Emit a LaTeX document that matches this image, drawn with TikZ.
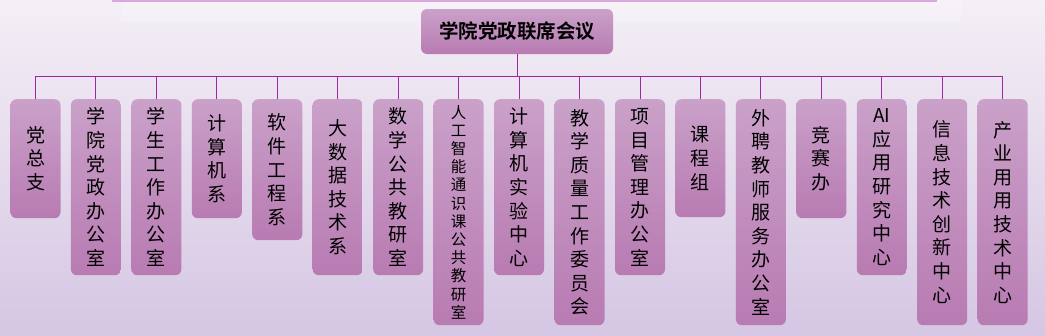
\documentclass[tikz,border=0pt]{standalone}
\usepackage{fontspec}
\newfontfamily\cjk{Noto Sans CJK SC}[BoldFont={Noto Sans CJK SC Bold}]
\usepackage{xcolor}
\usetikzlibrary{positioning,calc}
\definecolor{bgtop}{HTML}{F4EFF6}
\definecolor{bgbot}{HTML}{D5C6E3}
\definecolor{boxtop}{HTML}{CAA1C9}
\definecolor{boxbot}{HTML}{B87BB2}
\definecolor{linkpurple}{HTML}{9C27A0}
\definecolor{rimpink}{HTML}{D9A9DD}

\begin{document}
\begin{tikzpicture}[
  x=1pt, y=-1pt,
  head/.style={rounded corners=6pt, top color=boxtop, bottom color=boxbot,
    minimum width=192pt, minimum height=45pt, inner sep=0pt,
    font=\cjk\bfseries\fontsize{19.5}{22}\selectfont},
  org/.style={rounded corners=6pt, top color=boxtop, bottom color=boxbot,
    anchor=north, minimum width=50pt, inner sep=0pt, align=center,
    font=\cjk\fontsize{19}{23.6}\selectfont},
  small/.style={font=\cjk\fontsize{15.5}{18.2}\selectfont},
  link/.style={draw=linkpurple, line width=1pt},
]
\useasboundingbox (0,0) rectangle (1045,335);

% Background
\shade[top color=bgtop, bottom color=bgbot] (0,0) rectangle (1045,335);
\fill[white, opacity=0.2] (121,0) rectangle (961,22);
\fill[rimpink] (112,0) rectangle (937,1.5);

% Joint meeting
\node[head] (lx) at (517,31.5) {学院党政联席会议};

% Units
\node[org, minimum height=119pt] (dzz) at (35.5,99) {党\\总\\支};
\node[org, minimum height=176pt] (dzb) at (95.9,99) {学\\院\\党\\政\\办\\公\\室};
\node[org, minimum height=176pt] (xgb) at (156.4,99) {学\\生\\工\\作\\办\\公\\室};
\node[org, minimum height=119pt] (jsj) at (216.8,99) {计\\算\\机\\系};
\node[org, minimum height=141pt] (rj) at (277.3,99) {软\\件\\工\\程\\系};
\node[org, minimum height=176pt] (dsj) at (337.7,99) {大\\数\\据\\技\\术\\系};
\node[org, minimum height=176pt] (sx) at (398.2,99) {数\\学\\公\\共\\教\\研\\室};
\node[org, small, minimum height=226pt] (ai) at (458.6,99)
  {人\\工\\智\\能\\通\\识\\课\\公\\共\\教\\研\\室};
\node[org, minimum height=176pt] (syzx) at (519.1,99) {计\\算\\机\\实\\验\\中\\心};
\node[org, minimum height=226pt] (zlwy) at (579.5,99) {教\\学\\质\\量\\工\\作\\委\\员\\会};
\node[org, minimum height=176pt] (xmgl) at (640.0,99) {项\\目\\管\\理\\办\\公\\室};
\node[org, minimum height=118pt] (kcz) at (700.4,99) {课\\程\\组};
\node[org, minimum height=226pt] (wpjs) at (760.9,99) {外\\聘\\教\\师\\服\\务\\办\\公\\室};
\node[org, minimum height=119pt] (jsb) at (821.3,99) {竞\\赛\\办};
\node[org, minimum height=176pt] (aizx) at (881.8,99) {AI\\应\\用\\研\\究\\中\\心};
\node[org, minimum height=226pt] (cxzx) at (942.2,99) {信\\息\\技\\术\\创\\新\\中\\心};
\node[org, minimum height=226pt] (cyzx) at (1002.7,99) {产\\业\\用\\用\\技\\术\\中\\心};

% Tree lines
\coordinate (bus) at ($(lx.south)+(0,22)$);
\draw[link] (lx.south) -- (bus);
\draw[link] (dzz.north) |- (bus) -| (cyzx.north);
\foreach \n in {dzb,xgb,jsj,rj,dsj,sx,ai,syzx,zlwy,xmgl,kcz,wpjs,jsb,aizx,cxzx}
  \draw[link] (\n.north) -- (\n.north |- bus);

\end{tikzpicture}
\end{document}
